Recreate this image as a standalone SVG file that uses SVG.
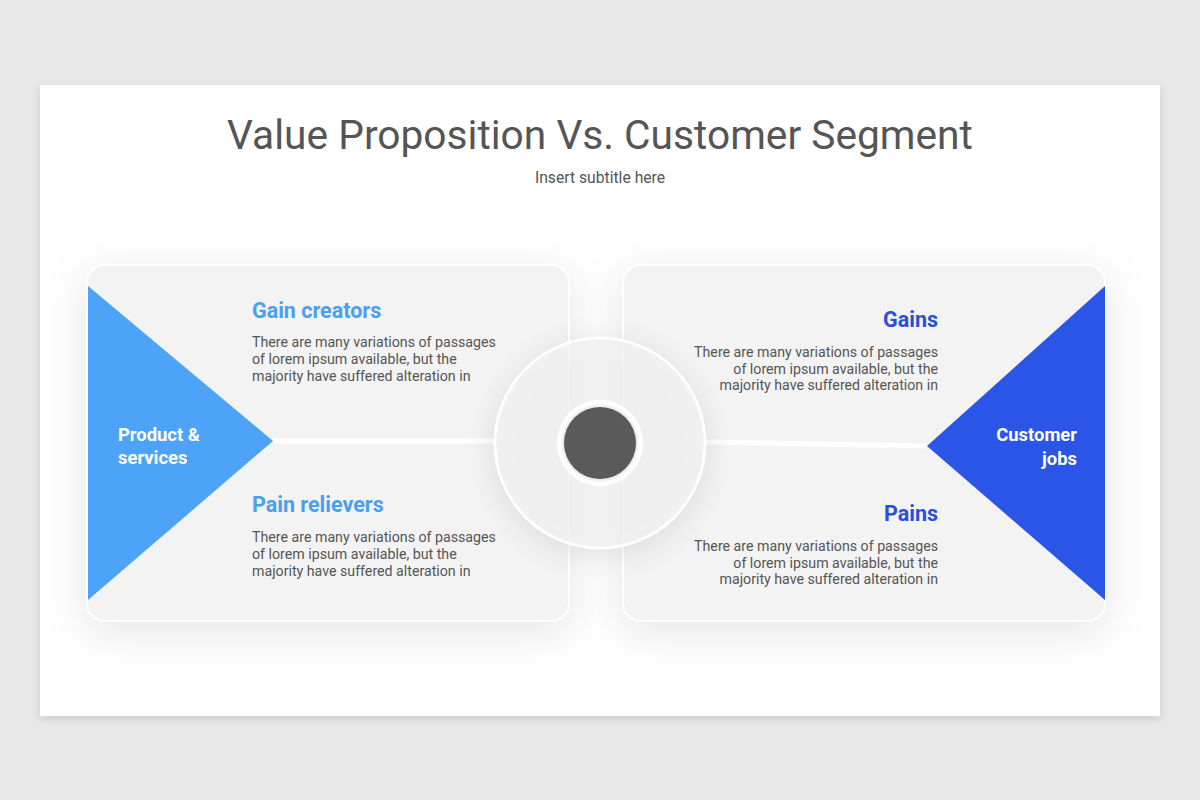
<svg xmlns="http://www.w3.org/2000/svg" width="1200" height="800" viewBox="0 0 1200 800">
  <defs>
    <filter id="slideShadow" x="-5%" y="-5%" width="110%" height="115%">
      <feDropShadow dx="0" dy="3" stdDeviation="4" flood-color="#000" flood-opacity="0.12"/>
    </filter>
    <filter id="panelShadow" x="-20%" y="-25%" width="140%" height="150%">
      <feDropShadow dx="0" dy="10" stdDeviation="22" flood-color="#000" flood-opacity="0.10"/>
    </filter>
    <filter id="circleShadow" x="-40%" y="-40%" width="180%" height="180%">
      <feDropShadow dx="0" dy="6" stdDeviation="14" flood-color="#000" flood-opacity="0.12"/>
    </filter>
    <filter id="dotShadow" x="-40%" y="-40%" width="180%" height="180%">
      <feDropShadow dx="0" dy="0" stdDeviation="2" flood-color="#000" flood-opacity="0.25"/>
    </filter>
  </defs>
  <style>
    .title { font-family: Roboto, "Liberation Sans", sans-serif; font-size: 40.7px; fill: #555555; }
    .subtitle { font-family: Roboto, "Liberation Sans", sans-serif; font-size: 15.7px; fill: #555555; }
    .head { font-family: Roboto, "Liberation Sans", sans-serif; font-size: 21.5px; font-weight: bold; }
    .headL { fill: #4a9ff0; }
    .headR { fill: #2a4fd8; }
    .body { font-family: Roboto, "Liberation Sans", sans-serif; font-size: 14.2px; fill: #555555; }
    .tri { font-family: Roboto, "Liberation Sans", sans-serif; font-size: 18.4px; font-weight: bold; fill: #ffffff; }
    .panel { fill: #f3f3f3; stroke: #ffffff; stroke-width: 2; }
    .link { stroke: #ffffff; stroke-width: 5; fill: none; opacity: 0.9; }
  </style>

  <rect x="0" y="0" width="1200" height="800" fill="#e9e8e9"/>
  <rect id="slide" x="40" y="85" width="1120" height="631" fill="#ffffff" filter="url(#slideShadow)"/>

  <g id="title">
    <text class="title" x="600" y="149" text-anchor="middle">Value Proposition Vs. Customer Segment</text>
    <text class="subtitle" x="600" y="183" text-anchor="middle">Insert subtitle here</text>
  </g>

  <g id="panel-left">
    <rect class="panel" x="87" y="265" width="482" height="356" rx="18" filter="url(#panelShadow)"/>
  </g>
  <g id="panel-right">
    <rect class="panel" x="623" y="265" width="482" height="356" rx="18" filter="url(#panelShadow)"/>
  </g>

  <g id="connectors">
    <line class="link" x1="273" y1="441" x2="497" y2="441"/>
    <line class="link" x1="703" y1="442" x2="927" y2="446"/>
  </g>

  <g id="product-services">
    <polygon points="88,286 273,441 88,600" fill="#4da3f8"/>
    <text class="tri" x="118" y="441">Product &amp;</text>
    <text class="tri" x="118" y="464">services</text>
  </g>

  <g id="customer-jobs">
    <polygon points="1105,286 927,446 1105,600" fill="#2a55e6"/>
    <text class="tri" x="1077" y="441" text-anchor="end">Customer</text>
    <text class="tri" x="1077" y="465" text-anchor="end">jobs</text>
  </g>

  <g id="gain-creators">
    <text class="head headL" x="252" y="318">Gain creators</text>
    <text class="body" x="252" y="347">There are many variations of passages</text>
    <text class="body" x="252" y="364">of lorem ipsum available, but the</text>
    <text class="body" x="252" y="381">majority have suffered alteration in</text>
  </g>

  <g id="pain-relievers">
    <text class="head headL" x="252" y="512">Pain relievers</text>
    <text class="body" x="252" y="542">There are many variations of passages</text>
    <text class="body" x="252" y="559">of lorem ipsum available, but the</text>
    <text class="body" x="252" y="576">majority have suffered alteration in</text>
  </g>

  <g id="gains">
    <text class="head headR" x="938" y="327" text-anchor="end">Gains</text>
    <text class="body" x="938" y="357" text-anchor="end">There are many variations of passages</text>
    <text class="body" x="938" y="374" text-anchor="end">of lorem ipsum available, but the</text>
    <text class="body" x="938" y="390" text-anchor="end">majority have suffered alteration in</text>
  </g>

  <g id="pains">
    <text class="head headR" x="938" y="521" text-anchor="end">Pains</text>
    <text class="body" x="938" y="551" text-anchor="end">There are many variations of passages</text>
    <text class="body" x="938" y="568" text-anchor="end">of lorem ipsum available, but the</text>
    <text class="body" x="938" y="584" text-anchor="end">majority have suffered alteration in</text>
  </g>

  <g id="center">
    <circle cx="600" cy="443" r="105" fill="#f2f2f2" fill-opacity="0.75" stroke="#ffffff" stroke-width="2.5" filter="url(#circleShadow)"/>
    <circle cx="600" cy="443" r="43" fill="#ffffff"/>
    <circle cx="600" cy="443" r="36" fill="#5a5a5a" filter="url(#dotShadow)"/>
  </g>
</svg>
